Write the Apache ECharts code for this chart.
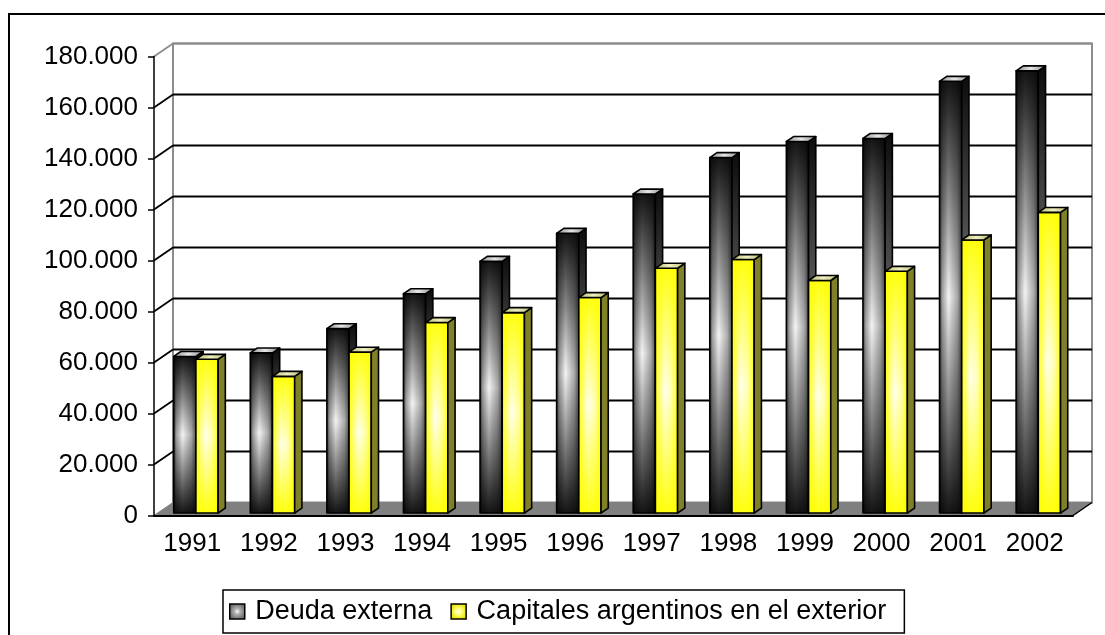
<!DOCTYPE html>
<html>
<head>
<meta charset="utf-8">
<script src="https://cdn.jsdelivr.net/npm/echarts@6/dist/echarts.min.js"></script>
<style>
    html, body { margin: 0; padding: 0; background: #fff; }
    #chart { width: 1105px; height: 635px; }
</style>
</head>
<body>
<div id="chart"></div>
<script>
// datos (millones de US$)
const years = ['1991', '1992', '1993', '1994', '1995', '1996', '1997', '1998', '1999', '2000', '2001', '2002'];
const deudaExterna = [61400, 62800, 72300, 86000, 98700, 109700, 125100, 139400, 145700, 146900, 169300, 173400];
const capitalesExterior = [60300, 53600, 63100, 74700, 78600, 84500, 96000, 99400, 91200, 94800, 107100, 117900];
const gridValues = [20000, 40000, 60000, 80000, 100000, 120000, 140000, 160000, 180000];
const seriesNames = ['Deuda externa', 'Capitales argentinos en el exterior'];

const FONT = '"Liberation Sans", Arial, sans-serif';
// profundidad del "3D" (pared del fondo respecto al plano frontal)
const DX = 19, DY = -13;
const BAR_OFF = 0.19, BAR_DEPTH = 0.38;

const LG = echarts.graphic.LinearGradient;

const chart = echarts.init(document.getElementById('chart'));

const fmt = v => String(v).replace(/\B(?=(\d{3})+(?!\d))/g, '.');

// paredes y piso
const renderWalls = (params, api) => {
    const cs = params.coordSys;
    const x0 = cs.x, x1 = cs.x + cs.width, yT = cs.y, yB = cs.y + cs.height;
    return {
        type: 'group',
        children: [
            {
                type: 'polygon',
                shape: { points: [[x0, yB], [x0, yT], [x0 + DX, yT + DY], [x0 + DX, yB + DY]] },
                style: { fill: '#fff' }
            },
            {
                type: 'rect',
                shape: { x: x0 + DX, y: yT + DY, width: cs.width, height: cs.height },
                style: { fill: '#fff', stroke: '#8c8c8c', lineWidth: 2 }
            },
            {
                type: 'polygon',
                shape: { points: [[x0, yB], [x1, yB], [x1 + DX, yB + DY], [x0 + DX, yB + DY]] },
                style: { fill: '#808080', stroke: '#808080', lineWidth: 1 }
            },
            {
                type: 'line',
                shape: { x1: x1, y1: yB, x2: x1 + DX, y2: yB + DY },
                style: { stroke: '#000', lineWidth: 1.5 }
            }
        ]
    };
};

// lineas de division sobre la pared del fondo
const renderGridLine = (params, api) => {
    const cs = params.coordSys;
    const v = api.value(1);
    const y = api.coord([0, v])[1];
    const top = v >= 180000;
    const col = top ? '#8c8c8c' : '#000';
    return {
        type: 'group',
        children: [
            {
                type: 'line',
                shape: { x1: cs.x + DX, y1: y + DY, x2: cs.x + cs.width + DX, y2: y + DY },
                style: { stroke: col, lineWidth: 2 }
            },
            {
                type: 'line',
                shape: { x1: cs.x, y1: y, x2: cs.x + DX, y2: y + DY },
                style: { stroke: col, lineWidth: 1.8 }
            }
        ]
    };
};

const styles = [
    {
        front: new LG(0, 0, 0, 1, [
            { offset: 0, color: '#151515' },
            { offset: 0.5, color: '#f4f4f4' },
            { offset: 1, color: '#151515' }
        ]),
        overlay: new LG(0, 0, 1, 0, [
            { offset: 0, color: 'rgba(0,0,0,0.75)' },
            { offset: 0.12, color: 'rgba(0,0,0,0.35)' },
            { offset: 0.4, color: 'rgba(0,0,0,0)' },
            { offset: 0.8, color: 'rgba(0,0,0,0.3)' },
            { offset: 1, color: 'rgba(0,0,0,0.65)' }
        ]),
        side: new LG(0, 0, 0, 1, [
            { offset: 0, color: '#0c0c0c' },
            { offset: 0.5, color: '#6a6a6a' },
            { offset: 1, color: '#1a1a1a' }
        ]),
        top: new LG(0, 0, 1, 0, [
            { offset: 0, color: '#8a8a8a' },
            { offset: 0.5, color: '#e6e6e6' },
            { offset: 1, color: '#8a8a8a' }
        ])
    },
    {
        front: new LG(0, 0, 0, 1, [
            { offset: 0, color: '#ffff10' },
            { offset: 0.5, color: '#ffffec' },
            { offset: 1, color: '#ffff10' }
        ]),
        overlay: new LG(0, 0, 1, 0, [
            { offset: 0, color: 'rgba(255,255,0,0.9)' },
            { offset: 0.4, color: 'rgba(255,255,0,0)' },
            { offset: 0.7, color: 'rgba(255,255,0,0.2)' },
            { offset: 1, color: 'rgba(255,255,0,0.9)' }
        ]),
        side: '#808028',
        top: new LG(0, 0, 1, 0, [
            { offset: 0, color: '#b8b868' },
            { offset: 0.5, color: '#efefc4' },
            { offset: 1, color: '#b8b868' }
        ])
    }
];

const makeBarRenderer = (k) => (params, api) => {
    const i = api.value(0);
    const v = api.value(1);
    const base = api.coord([i, 0]);
    const topPt = api.coord([i, v]);
    const band = api.size([1, 0])[0];
    const w = band * 0.29;
    const ox = DX * BAR_OFF, oy = DY * BAR_OFF;
    const dx = DX * BAR_DEPTH, dy = DY * BAR_DEPTH;
    const x = base[0] + ox + (k === 0 ? -w : 0);
    const yT = topPt[1] + oy, yB = base[1] + oy;
    const h = yB - yT;
    const st = styles[k];
    const edge = { stroke: '#000', lineWidth: 1.6, lineJoin: 'round' };
    return {
        type: 'group',
        children: [
            { type: 'rect', shape: { x: x, y: yT, width: w, height: h }, style: { fill: st.front } },
            { type: 'rect', shape: { x: x, y: yT, width: w, height: h }, style: { fill: st.overlay } },
            { type: 'rect', shape: { x: x, y: yT, width: w, height: h }, style: Object.assign({ fill: 'none' }, edge) },
            {
                type: 'polygon',
                shape: { points: [[x + w, yT], [x + w + dx, yT + dy], [x + w + dx, yB + dy], [x + w, yB]] },
                style: Object.assign({ fill: st.side }, edge)
            },
            {
                type: 'polygon',
                shape: { points: [[x, yT], [x + dx, yT + dy], [x + w + dx, yT + dy], [x + w, yT]] },
                style: Object.assign({ fill: st.top }, edge)
            }
        ]
    };
};

const legendIcon = (c1, c2) => ({
    color: new echarts.graphic.RadialGradient(0.5, 0.5, 0.5, [
        { offset: 0, color: '#fff' },
        { offset: 0.35, color: c1 },
        { offset: 1, color: c2 }
    ]),
    borderColor: '#000',
    borderWidth: 1.5
});

const option = {
    animation: false,
    backgroundColor: '#fff',
    textStyle: { fontFamily: FONT },
    graphic: [
        {
            type: 'rect',
            z: 100,
            silent: true,
            shape: { x: 9, y: 14, width: 1110, height: 640 },
            style: { fill: 'none', stroke: '#000', lineWidth: 2 }
        }
    ],
    legend: {
        left: 223,
        top: 590,
        padding: [8, 18, 8, 6],
        itemGap: 18,
        itemWidth: 26,
        itemHeight: 15,
        icon: 'path://M0,0H10V10H0Z',
        borderColor: '#000',
        borderWidth: 1.5,
        selectedMode: false,
        textStyle: { fontSize: 27, color: '#000', fontFamily: FONT },
        data: [
            { name: seriesNames[0], itemStyle: legendIcon('#b0b0b0', '#6a6a6a') },
            { name: seriesNames[1], itemStyle: legendIcon('#ffff80', '#e6e600') }
        ]
    },
    grid: {
        left: 154,
        right: 32,
        top: 56.5,
        bottom: 119.5
    },
    xAxis: {
        type: 'category',
        data: years,
        z: 10,
        axisLine: { lineStyle: { color: '#000', width: 2 } },
        axisTick: { length: 7, lineStyle: { color: '#000', width: 1.5 } },
        axisLabel: { color: '#000', fontSize: 26, fontFamily: FONT, margin: 15 },
        splitLine: { show: false }
    },
    yAxis: {
        type: 'value',
        min: 0,
        max: 180000,
        interval: 20000,
        z: 10,
        axisLine: { show: true, lineStyle: { color: '#000', width: 1.5 } },
        axisTick: { show: true, length: 6, lineStyle: { color: '#000', width: 1.5 } },
        axisLabel: { color: '#000', fontSize: 26, fontFamily: FONT, margin: 16, formatter: fmt },
        splitLine: { show: false }
    },
    series: [
        {
            type: 'custom',
            name: 'walls',
            silent: true,
            z: 1,
            clip: false,
            renderItem: renderWalls,
            data: [[0, 0]]
        },
        {
            type: 'custom',
            name: 'gridlines',
            silent: true,
            z: 1,
            clip: false,
            renderItem: renderGridLine,
            data: gridValues.map(v => [0, v])
        },
        {
            type: 'custom',
            name: seriesNames[0],
            z: 3,
            clip: false,
            itemStyle: { color: '#808080' },
            renderItem: makeBarRenderer(0),
            encode: { x: 0, y: 1 },
            data: deudaExterna.map((v, i) => [i, v])
        },
        {
            type: 'custom',
            name: seriesNames[1],
            z: 4,
            clip: false,
            itemStyle: { color: '#ffff00' },
            renderItem: makeBarRenderer(1),
            encode: { x: 0, y: 1 },
            data: capitalesExterior.map((v, i) => [i, v])
        }
    ]
};

chart.setOption(option);
</script>
</body>
</html>
